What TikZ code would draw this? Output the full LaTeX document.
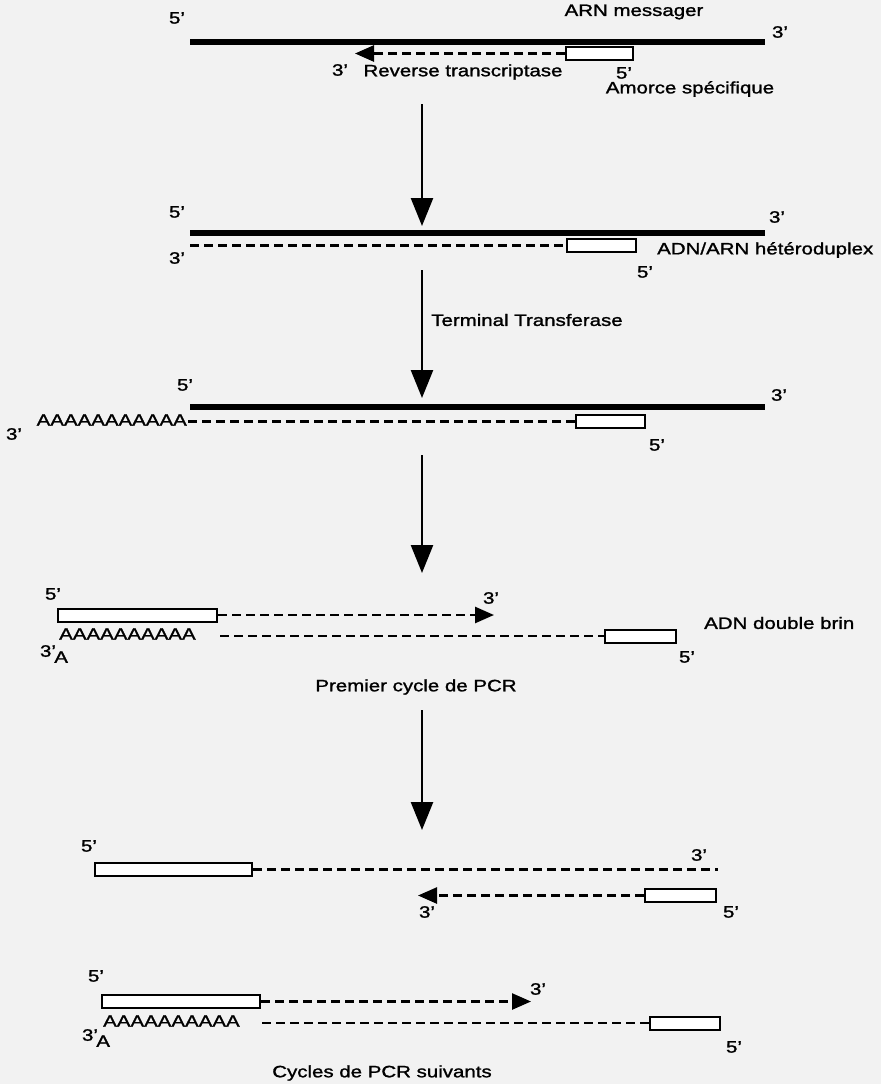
\documentclass[tikz,border=0pt]{standalone}
\usepackage{fontspec}
\setmainfont{Liberation Sans}[FakeStretch=1.24, FakeBold=1.4]
\usetikzlibrary{arrows.meta}
\definecolor{bg}{RGB}{242,242,242}
\begin{document}
\begin{tikzpicture}[x=1pt,y=-1pt,
  lbl/.style={font=\fontsize{16.5}{19}\selectfont, inner sep=0pt},
  rna/.style={line width=6pt},
  dna/.style={line width=2.6pt, dash pattern=on 9pt off 5pt},
  primer/.style={draw, line width=2pt, fill=white, minimum height=13pt, inner sep=0pt, rectangle},
  ext/.style={dna, -{Triangle[length=19pt,width=16pt]}},
  steparrow/.style={line width=2.5pt, -{Triangle[length=28pt,width=22pt]}},
]
\fill[bg] (0,0) rectangle (881,1084);
\useasboundingbox (0,0) rectangle (881,1084);

% ---------- Stage 1 ----------
\coordinate (r1a) at (190,42); \coordinate (r1b) at (765,42);
\draw[rna] (r1a) -- (r1b);
\node[primer, minimum width=67pt] (p1) at (599.5,53.5) {};
\coordinate (t1) at (355,53.5);
\draw[ext] (p1.west) -- (t1);
\node[lbl] (l1a) at (177,18) {5'};
\node[lbl] (l1b) at (780,32) {3'};
\node[lbl] (l1c) at (634,12) {ARN messager};
\node[lbl] (l1d) at (340,70) {3'};
\node[lbl] (l1e) at (463,72) {Reverse transcriptase};
\node[lbl] (l1f) at (624,73) {5'};
\node[lbl] (l1g) at (690,89) {Amorce spécifique};

\coordinate (a1s) at (422,104); \coordinate (a1e) at (422,226);
\draw[steparrow] (a1s) -- (a1e);

% ---------- Stage 2 ----------
\coordinate (r2a) at (190,233); \coordinate (r2b) at (765,233);
\draw[rna] (r2a) -- (r2b);
\node[primer, minimum width=69pt] (p2) at (601.5,245.5) {};
\coordinate (d2a) at (190,245.5);
\draw[dna] (d2a) -- (p2.west);
\node[lbl] (l2a) at (177,212) {5'};
\node[lbl] (l2b) at (777,217) {3'};
\node[lbl] (l2c) at (177,258) {3'};
\node[lbl, anchor=west] (l2d) at (657,250) {ADN/ARN hétéroduplex};
\node[lbl] (l2e) at (645,272) {5'};

\coordinate (a2s) at (422,270); \coordinate (a2e) at (422,398);
\draw[steparrow] (a2s) -- (a2e);
\node[lbl] (l2f) at (527,320) {Terminal Transferase};

% ---------- Stage 3 ----------
\coordinate (r3a) at (190,407); \coordinate (r3b) at (765,407);
\draw[rna] (r3a) -- (r3b);
\node[lbl, anchor=east] (poly3) at (187,420) {AAAAAAAAAAA};
\node[primer, minimum width=69pt] (p3) at (610.5,421.5) {};
\coordinate (d3a) at (188,421.5);
\draw[dna] (d3a) -- (p3.west);
\node[lbl] (l3a) at (185,385) {5'};
\node[lbl] (l3b) at (779,395) {3'};
\node[lbl] (l3c) at (14,434) {3'};
\node[lbl] (l3d) at (657,445) {5'};

\coordinate (a3s) at (422,455); \coordinate (a3e) at (422,573);
\draw[steparrow] (a3s) -- (a3e);

% ---------- Stage 4 ----------
\node[primer, minimum width=159pt] (p4a) at (137.5,615) {};
\coordinate (t4) at (494,615);
\draw[ext] (p4a.east) -- (t4);
\node[lbl, anchor=west] (poly4) at (59,634) {AAAAAAAAAA};
\node[primer, minimum width=71pt] (p4b) at (640.5,636) {};
\coordinate (d4a) at (220,636);
\draw[dna] (d4a) -- (p4b.west);
\node[lbl] (l4a) at (53,594) {5'};
\node[lbl] (l4b) at (491,598) {3'};
\node[lbl] (l4c) at (54,654) {3'\kern-0.1em\raisebox{-0.7ex}{A}};
\node[lbl] (l4d) at (687,657) {5'};
\node[lbl, anchor=west] (l4e) at (704,623) {ADN double brin};
\node[lbl] (l4f) at (416,687) {Premier cycle de PCR};

\coordinate (a4s) at (422,710); \coordinate (a4e) at (422,830);
\draw[steparrow] (a4s) -- (a4e);

% ---------- Stage 5 ----------
\node[primer, minimum width=157pt] (p5a) at (173.5,869.5) {};
\coordinate (d5b) at (718,869.5);
\draw[dna] (p5a.east) -- (d5b);
\node[primer, minimum width=71pt] (p5b) at (680.5,895.5) {};
\coordinate (t5) at (418,895.5);
\draw[ext] (p5b.west) -- (t5);
\node[lbl] (l5a) at (89,846) {5'};
\node[lbl] (l5b) at (699,855) {3'};
\node[lbl] (l5c) at (427,912) {3'};
\node[lbl] (l5d) at (731,912) {5'};

% ---------- Stage 6 ----------
\node[primer, minimum width=158pt] (p6a) at (181,1001.5) {};
\coordinate (t6) at (531,1001.5);
\draw[ext] (p6a.east) -- (t6);
\node[lbl, anchor=west] (poly6) at (103,1021) {AAAAAAAAAA};
\node[primer, minimum width=70pt] (p6b) at (685,1023) {};
\coordinate (d6a) at (262,1023);
\draw[dna] (d6a) -- (p6b.west);
\node[lbl] (l6a) at (96,976) {5'};
\node[lbl] (l6b) at (538,989) {3'};
\node[lbl] (l6c) at (96,1038) {3'\kern-0.1em\raisebox{-0.7ex}{A}};
\node[lbl] (l6d) at (734,1047) {5'};
\node[lbl] (l6e) at (382,1073) {Cycles de PCR suivants};
\end{tikzpicture}
\end{document}
